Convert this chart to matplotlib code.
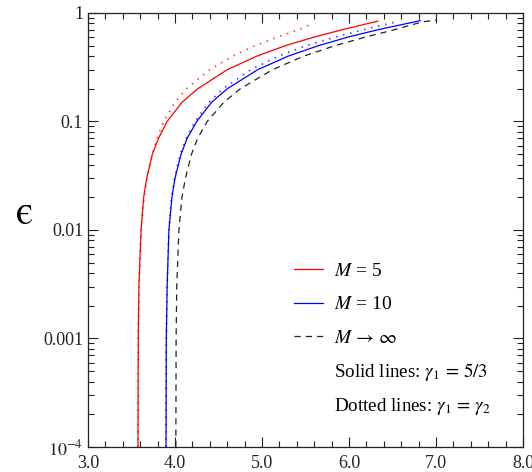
import matplotlib
matplotlib.use("Agg")
import matplotlib.pyplot as plt
from matplotlib.ticker import FixedLocator, NullFormatter, LogLocator

plt.rcParams['font.family'] = ['Liberation Serif', 'DejaVu Serif']
plt.rcParams['mathtext.fontset'] = 'stix'

# epsilon vs. x for each model
eps_red_solid = [1e-4, 1e-3, 0.003, 0.01, 0.02, 0.03, 0.05, 0.07, 0.1, 0.15, 0.2, 0.3, 0.4, 0.5, 0.6, 0.7, 0.84]
x_red_solid = [3.575, 3.578, 3.585, 3.61, 3.64, 3.675, 3.74, 3.81, 3.91, 4.08, 4.26, 4.60, 4.94, 5.27, 5.60, 5.92, 6.33]

eps_red_dot = [1e-4, 1e-3, 0.003, 0.01, 0.02, 0.03, 0.05, 0.07, 0.1, 0.15, 0.2, 0.3, 0.4, 0.5, 0.6, 0.7, 0.81]
x_red_dot = [3.575, 3.578, 3.586, 3.61, 3.645, 3.68, 3.74, 3.795, 3.87, 4.00, 4.13, 4.40, 4.66, 4.92, 5.18, 5.42, 5.59]

eps_blue_solid = [1e-4, 1e-3, 0.003, 0.01, 0.02, 0.03, 0.05, 0.07, 0.1, 0.15, 0.2, 0.3, 0.4, 0.5, 0.6, 0.7, 0.85]
x_blue_solid = [3.897, 3.90, 3.91, 3.93, 3.965, 4.00, 4.07, 4.14, 4.25, 4.42, 4.60, 4.95, 5.30, 5.65, 5.99, 6.33, 6.82]

eps_blue_dot = [1e-4, 1e-3, 0.003, 0.01, 0.02, 0.03, 0.05, 0.07, 0.1, 0.15, 0.2, 0.3, 0.4, 0.5, 0.6, 0.7, 0.83]
x_blue_dot = [3.897, 3.90, 3.91, 3.93, 3.96, 3.995, 4.06, 4.13, 4.23, 4.39, 4.55, 4.87, 5.19, 5.51, 5.84, 6.16, 6.55]

eps_inf = [1e-4, 1e-3, 0.003, 0.01, 0.02, 0.03, 0.05, 0.07, 0.1, 0.15, 0.2, 0.3, 0.4, 0.5, 0.6, 0.7, 0.83, 0.86]
x_inf = [4.01, 4.013, 4.02, 4.045, 4.08, 4.12, 4.19, 4.26, 4.37, 4.56, 4.75, 5.12, 5.48, 5.84, 6.19, 6.52, 6.85, 7.01]

x_ticks = [3.0, 4.0, 5.0, 6.0, 7.0, 8.0]
x_tick_labels = ["3.0", "4.0", "5.0", "6.0", "7.0", "8.0"]
y_ticks = [1e-4, 1e-3, 1e-2, 1e-1, 1]
y_tick_labels = [r"$10^{-4}$", "0.001", "0.01", "0.1", "1"]

fig = plt.figure(figsize=(5.32, 4.72), dpi=100)
ax = fig.add_axes([0.1654, 0.053, 0.8176, 0.9195])

lw = 0.9
l1, = ax.plot(x_red_solid, eps_red_solid, color='red', lw=lw)
ax.plot(x_red_dot, eps_red_dot, color='red', lw=1.3, ls=(0, (0.8, 3.2)), alpha=0.75)
l2, = ax.plot(x_blue_solid, eps_blue_solid, color='blue', lw=lw)
ax.plot(x_blue_dot, eps_blue_dot, color='blue', lw=1.3, ls=(0, (0.8, 3.2)), alpha=0.75)
l3, = ax.plot(x_inf, eps_inf, color='#222222', lw=lw, ls=(0, (5, 4)))

ax.set_yscale('log')
ax.set_xlim(3.0, 8.0)
ax.set_ylim(1e-4, 1)

ax.set_xticks(x_ticks)
ax.set_xticklabels(x_tick_labels)
ax.xaxis.set_minor_locator(FixedLocator([3 + 0.2 * i for i in range(26)]))
ax.set_yticks(y_ticks)
ax.set_yticklabels(y_tick_labels)
ax.yaxis.set_minor_locator(LogLocator(base=10, subs=range(2, 10)))
ax.yaxis.set_minor_formatter(NullFormatter())

ax.tick_params(which='both', direction='in', top=True, right=True, labelsize=13, width=0.8, colors='#222222')
ax.tick_params(which='major', length=7)
ax.tick_params(which='minor', length=4)
ax.tick_params(axis='x', which='major', pad=5.5)
for s in ax.spines.values():
    s.set_linewidth(0.9)
    s.set_color('#222222')

fig.text(0.047, 0.545, "\u03f5", fontsize=29, ha='center', va='center',
         family=['STIXGeneral', 'DejaVu Serif'])

leg = ax.legend([l1, l2, l3], [r"$M$ = 5", r"$M$ = 10", r"$M\,\rightarrow\,\infty$"],
                loc='upper left', bbox_to_anchor=(0.4736, 0.426), frameon=False,
                fontsize=14, handlelength=1.5, handletextpad=0.57, labelspacing=0.83,
                borderaxespad=0, borderpad=0)
ax.text(0.5655, 0.1728, r"Solid lines: $\gamma_1\,=\,5/3$", transform=ax.transAxes, fontsize=13.7, va='center')
ax.text(0.5655, 0.0922, r"Dotted lines: $\gamma_1\,=\,\gamma_2$", transform=ax.transAxes, fontsize=13.7, va='center')

fig.savefig("out.png", dpi=100)
